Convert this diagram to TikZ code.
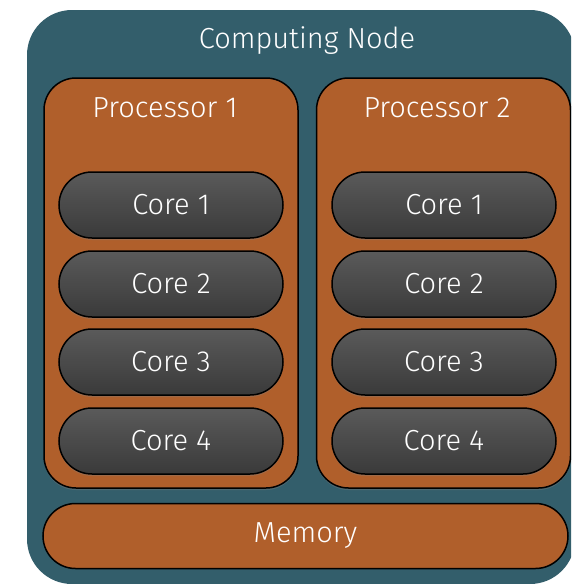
\documentclass[tikz,border=0pt]{standalone}
\usepackage{fontspec}
\setmainfont{Liberation Sans}
\newfontfamily\leggero{Fira Sans Light}
\usetikzlibrary{shapes.misc,shadows}
\definecolor{nodoblu}{HTML}{335E6B}
\definecolor{ruggine}{HTML}{B05F2B}
\definecolor{grigiosu}{HTML}{5A5A5A}
\definecolor{grigiogiu}{HTML}{3A3A3A}
\tikzset{
    etichetta/.style={text=white, font=\leggero\fontsize{29}{31}\selectfont},
    processore/.style={draw=black, line width=1.5pt, fill=ruggine, rounded corners=32pt,
        minimum width=254pt, minimum height=410pt, inner sep=0pt,
        drop shadow={opacity=0.35, shadow xshift=0pt, shadow yshift=-2pt}},
    nucleo/.style={rounded rectangle, draw=black, line width=1.5pt, top color=grigiosu, bottom color=grigiogiu,
        minimum width=224pt, minimum height=66pt, inner sep=0pt, etichetta,
        drop shadow={opacity=0.35, shadow xshift=0pt, shadow yshift=-2pt}},
}
\begin{document}
\begin{tikzpicture}[x=1pt,y=-1pt]
        \clip (0,0) rectangle (571,584);
        % Nodo di calcolo
        \node (computing) [fill=nodoblu, rounded corners=45pt, minimum width=548pt, minimum height=574pt, inner sep=0pt] at (301,297) {};
        \node (titolo) [etichetta] at (307,41) {Computing Node};
        % Processori
        \node (proc1) [processore] at (171,283) {};
        \node (proc2) [processore] at (443.5,283) {};
        \node [etichetta] at (165,108) {Processor 1};
        \node [etichetta] at (437,108) {Processor 2};
        % Core
        \node (p1core1) [nucleo] at (171,205) {Core 1};
        \node (p1core2) [nucleo] at (171,284) {Core 2};
        \node (p1core3) [nucleo] at (171,362) {Core 3};
        \node (p1core4) [nucleo] at (171,441) {Core 4};
        \node (p2core1) [nucleo] at (444,205) {Core 1};
        \node (p2core2) [nucleo] at (444,284) {Core 2};
        \node (p2core3) [nucleo] at (444,362) {Core 3};
        \node (p2core4) [nucleo] at (444,441) {Core 4};
        % Memoria
        \node (memory) [rounded rectangle, draw=black, line width=1.5pt, fill=ruggine, minimum width=525pt, minimum height=65pt, inner sep=0pt, etichetta] at (305.5,536) {Memory};
    \end{tikzpicture}
\end{document}
